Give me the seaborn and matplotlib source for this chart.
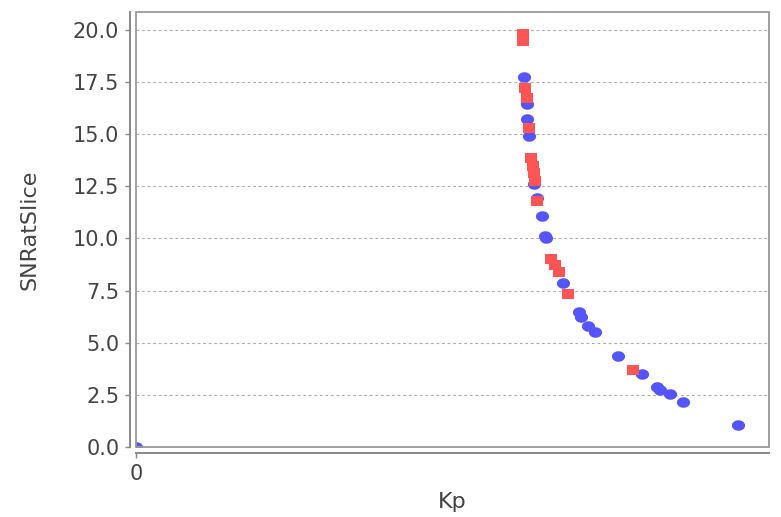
import numpy as np
import pandas as pd
import seaborn as sns
import matplotlib.pyplot as plt
from matplotlib.path import Path
from matplotlib.patches import Rectangle

# 数据：蓝色圆点与红色方块
blue_kp = [61.3, 61.8, 61.8, 62.1, 62.9, 63.3, 64.1, 64.6, 64.8, 67.5, 70.0,
           70.3, 71.4, 72.5, 76.1, 79.9, 82.3, 82.8, 84.4, 86.4, 95.1, 0.0]
blue_snr = [17.75, 16.45, 15.73, 14.92, 12.61, 11.94, 11.08, 10.12, 10.02, 7.87, 6.47,
            6.24, 5.80, 5.52, 4.36, 3.50, 2.88, 2.73, 2.54, 2.16, 1.05, 0.0]
red_kp = [61.1, 61.1, 61.5, 61.8, 62.1, 62.4, 62.7, 62.9, 63.0, 63.3,
          65.6, 66.2, 66.8, 68.2, 78.5]
red_snr = [19.81, 19.47, 17.22, 16.74, 15.30, 13.86, 13.48, 13.14, 12.76, 11.80,
           9.02, 8.73, 8.39, 7.34, 3.69]
y_ticks = [0.0, 2.5, 5.0, 7.5, 10.0, 12.5, 15.0, 17.5, 20.0]
x_ticks = [0]

sns.set_style("white")
plt.rcParams['font.family'] = ['DejaVu Sans']

df_blue = pd.DataFrame({"Kp": blue_kp, "SNRatSlice": blue_snr})
df_red = pd.DataFrame({"Kp": red_kp, "SNRatSlice": red_snr})

# 椭圆和矩形标记（略宽）
t = np.linspace(0, 2 * np.pi, 40)
ellipse = Path(np.column_stack([0.6 * np.cos(t), 0.48 * np.sin(t)]), closed=True)
rect = Path([(-0.6, -0.5), (0.6, -0.5), (0.6, 0.5), (-0.6, 0.5), (-0.6, -0.5)], closed=True)

fig = plt.figure(figsize=(7.81, 5.17), dpi=100)
ax = fig.add_axes([136 / 781, 70 / 517, 633 / 781, 435 / 517])

sns.scatterplot(data=df_blue, x="Kp", y="SNRatSlice", marker=ellipse, s=90,
                color="#5555FF", linewidth=0, ax=ax, zorder=3)
sns.scatterplot(data=df_red, x="Kp", y="SNRatSlice", marker=rect, s=85,
                color="#FF5555", linewidth=0, ax=ax, zorder=4)

ax.set_xlim(0, 100)
ax.set_ylim(0, 20.86)
ax.set_yticks(y_ticks)
ax.set_yticklabels([f"{v:.1f}" for v in y_ticks])
ax.set_xticks(x_ticks)
ax.set_xticklabels([str(v) for v in x_ticks])

ax.yaxis.grid(True, color="#aaaaaa", linestyle=(0, (2.5, 2.5)), linewidth=0.8)
ax.xaxis.grid(False)
ax.set_axisbelow(True)

for side in ["top", "right"]:
    ax.spines[side].set_visible(False)
for side in ["left", "bottom"]:
    ax.spines[side].set_position(("outward", 4.5))
    ax.spines[side].set_color("#888888")
    ax.spines[side].set_linewidth(1.4)

# 绘图区边框
ax.add_patch(Rectangle((0, 0), 1, 1, transform=ax.transAxes, fill=False,
                       edgecolor="#999999", linewidth=1.3, clip_on=False, zorder=5))

ax.tick_params(axis="both", which="both", direction="out", length=3.5, width=1,
               color="#888888", labelsize=15, labelcolor="#444444", pad=4,
               left=True, bottom=True)

ax.set_xlabel("Kp", fontsize=16, color="#444444", labelpad=6)
ax.set_ylabel("SNRatSlice", fontsize=16, color="#444444", labelpad=24)

fig.savefig("out.png", dpi=100, facecolor="white")
